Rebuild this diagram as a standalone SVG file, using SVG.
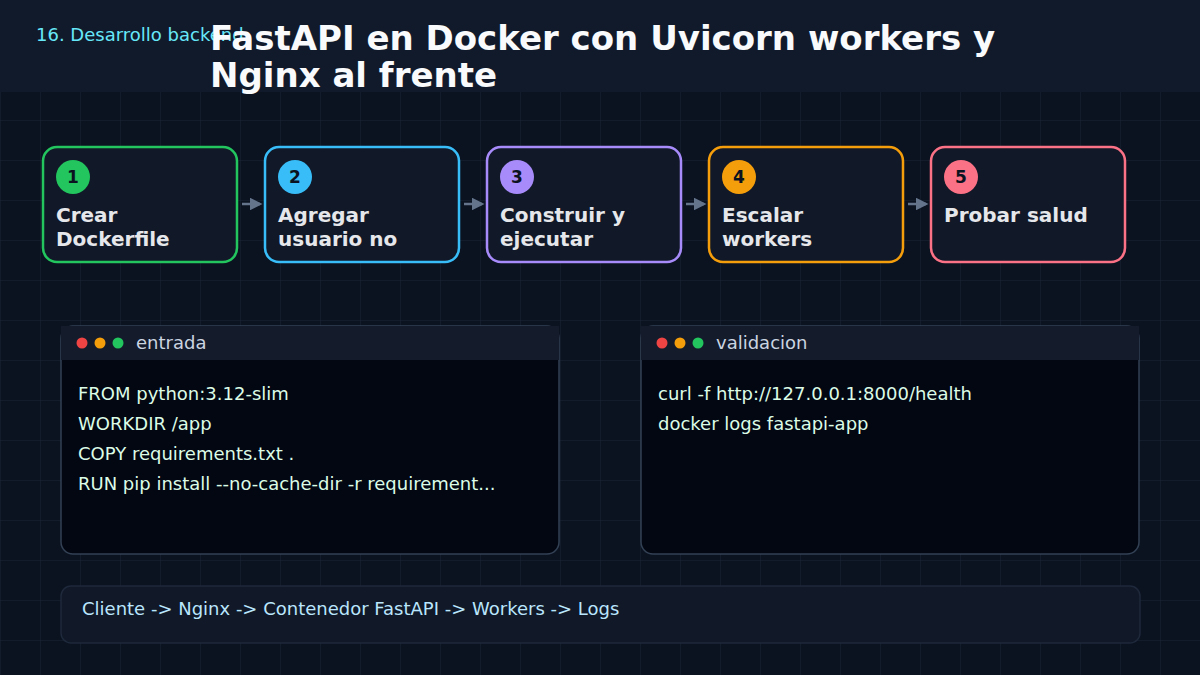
<svg xmlns="http://www.w3.org/2000/svg" width="1200" height="675" viewBox="0 0 1200 675">
<defs>
<pattern id="grid" width="40" height="40" patternUnits="userSpaceOnUse">
<path d="M40 0H0V40" fill="none" stroke="#1a2536" stroke-width="1"/>
</pattern>
<marker id="arr" viewBox="0 0 10 10" refX="8" refY="5" markerWidth="5" markerHeight="5" orient="auto">
<path d="M0 0L10 5L0 10z" fill="#64748b"/>
</marker>
<style>
text{font-family:"DejaVu Sans","Noto Sans",sans-serif}
.card{fill:#111827;stroke-width:2.5}
.num{font-size:17px;font-weight:bold;fill:#0b1220;text-anchor:middle}
.lbl{font-size:20px;font-weight:bold;fill:#e5e7eb}
.panel{fill:#030712;stroke:#334155;stroke-width:1.5}
.bar{fill:#141b2b}
.ptitle{font-size:18px;fill:#cbd5e1}
.code{font-size:18px;fill:#dcfce7}
.conn{stroke:#64748b;stroke-width:2.5;fill:none;marker-end:url(#arr)}
</style>
</defs>
<rect width="1200" height="675" fill="#0b1220"/>
<rect width="1200" height="675" fill="url(#grid)"/>
<rect width="1200" height="92" fill="#111a2b"/>
<text x="36" y="41" font-size="18" fill="#67e8f9">16. Desarrollo backend</text>
<text x="210" y="50" font-size="34" font-weight="bold" fill="#f8fafc">FastAPI en Docker con Uvicorn workers y</text>
<text x="210" y="87" font-size="34" font-weight="bold" fill="#f8fafc">Nginx al frente</text>

<g id="connectors">
<line class="conn" x1="242" y1="204" x2="260" y2="204"/>
<line class="conn" x1="464" y1="204" x2="482" y2="204"/>
<line class="conn" x1="686" y1="204" x2="704" y2="204"/>
<line class="conn" x1="908" y1="204" x2="926" y2="204"/>
</g>

<g id="step1">
<rect class="card" x="43" y="147" width="194" height="115" rx="14" stroke="#22c55e"/>
<circle cx="73" cy="177" r="17" fill="#22c55e"/>
<text class="num" x="73" y="183">1</text>
<text class="lbl" x="56" y="222">Crear</text>
<text class="lbl" x="56" y="246">Dockerfile</text>
</g>
<g id="step2">
<rect class="card" x="265" y="147" width="194" height="115" rx="14" stroke="#38bdf8"/>
<circle cx="295" cy="177" r="17" fill="#38bdf8"/>
<text class="num" x="295" y="183">2</text>
<text class="lbl" x="278" y="222">Agregar</text>
<text class="lbl" x="278" y="246">usuario no</text>
</g>
<g id="step3">
<rect class="card" x="487" y="147" width="194" height="115" rx="14" stroke="#a78bfa"/>
<circle cx="517" cy="177" r="17" fill="#a78bfa"/>
<text class="num" x="517" y="183">3</text>
<text class="lbl" x="500" y="222">Construir y</text>
<text class="lbl" x="500" y="246">ejecutar</text>
</g>
<g id="step4">
<rect class="card" x="709" y="147" width="194" height="115" rx="14" stroke="#f59e0b"/>
<circle cx="739" cy="177" r="17" fill="#f59e0b"/>
<text class="num" x="739" y="183">4</text>
<text class="lbl" x="722" y="222">Escalar</text>
<text class="lbl" x="722" y="246">workers</text>
</g>
<g id="step5">
<rect class="card" x="931" y="147" width="194" height="115" rx="14" stroke="#fb7185"/>
<circle cx="961" cy="177" r="17" fill="#fb7185"/>
<text class="num" x="961" y="183">5</text>
<text class="lbl" x="944" y="222">Probar salud</text>
</g>

<g id="panel-entrada">
<rect class="panel" x="61" y="326" width="498" height="228" rx="12"/>
<rect class="bar" x="61" y="326" width="498" height="34"/>
<circle cx="82" cy="343" r="5.5" fill="#ef4444"/>
<circle cx="100" cy="343" r="5.5" fill="#f59e0b"/>
<circle cx="118" cy="343" r="5.5" fill="#22c55e"/>
<text class="ptitle" x="136" y="349">entrada</text>
<text class="code" x="78" y="400">FROM python:3.12-slim</text>
<text class="code" x="78" y="430">WORKDIR /app</text>
<text class="code" x="78" y="460">COPY requirements.txt .</text>
<text class="code" x="78" y="490">RUN pip install --no-cache-dir -r requirement...</text>
</g>
<g id="panel-validacion">
<rect class="panel" x="641" y="326" width="498" height="228" rx="12"/>
<rect class="bar" x="641" y="326" width="498" height="34"/>
<circle cx="662" cy="343" r="5.5" fill="#ef4444"/>
<circle cx="680" cy="343" r="5.5" fill="#f59e0b"/>
<circle cx="698" cy="343" r="5.5" fill="#22c55e"/>
<text class="ptitle" x="716" y="349">validacion</text>
<text class="code" x="658" y="400">curl -f http://127.0.0.1:8000/health</text>
<text class="code" x="658" y="430">docker logs fastapi-app</text>
</g>

<g id="flow">
<rect x="61" y="586" width="1079" height="57" rx="10" fill="#111827" stroke="#1e293b" stroke-width="1.5"/>
<text x="82" y="615" font-size="18" fill="#bae6fd">Cliente -&gt; Nginx -&gt; Contenedor FastAPI -&gt; Workers -&gt; Logs</text>
</g>
</svg>
